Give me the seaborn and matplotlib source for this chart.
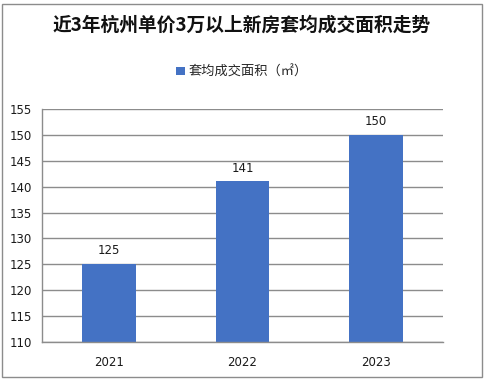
import matplotlib
matplotlib.use("Agg")
import matplotlib.pyplot as plt
import seaborn as sns
import pandas as pd
from matplotlib.patches import Rectangle

# 数据
years = ["2021", "2022", "2023"]
areas = [125, 141, 150]
series_name = "套均成交面积（㎡）"
title = "近3年杭州单价3万以上新房套均成交面积走势"
y_ticks = [110, 115, 120, 125, 130, 135, 140, 145, 150, 155]

sns.set_style("white")
plt.rcParams['font.family'] = ['Noto Sans CJK SC', 'DejaVu Sans']

df = pd.DataFrame({"年份": years, "面积": areas})

fig = plt.figure(figsize=(4.84, 3.8), dpi=100)
ax = fig.add_axes([42 / 484, 1 - 342 / 380, (443 - 42) / 484, (342 - 109) / 380])

# 网格线在柱子下面
ax.set_axisbelow(True)
for t in y_ticks:
    ax.axhline(t, color="#8c8c8c", lw=1.0, zorder=0)

sns.barplot(data=df, x="年份", y="面积", order=years, color="#4472C4",
            width=0.4, saturation=1, label=series_name, ax=ax, zorder=2,
            linewidth=0, edgecolor="none")

ax.set_ylim(110, 155)
ax.set_xlim(-0.5, 2.5)
ax.set_yticks(y_ticks)
ax.set_xlabel("")
ax.set_ylabel("")

# 分类边界刻度
ax.set_xticks([-0.5, 0.5, 1.5, 2.5], minor=True)
ax.tick_params(axis="x", which="major", length=0, pad=10, labelsize=8.5, labelcolor="#1a1a1a")
ax.tick_params(axis="x", which="minor", length=5, width=1, color="#8c8c8c", direction="out")
ax.tick_params(axis="y", which="major", length=5, width=1, color="#8c8c8c", direction="out",
               labelsize=8.5, labelcolor="#1a1a1a", pad=2)
for lab in ax.get_xticklabels() + ax.get_yticklabels():
    lab.set_fontfamily(['DejaVu Sans'])

for side in ["top", "right"]:
    ax.spines[side].set_visible(False)
for side in ["left", "bottom"]:
    ax.spines[side].set_color("#8c8c8c")
    ax.spines[side].set_linewidth(1.0)

ax.bar_label(ax.containers[0], padding=5, fontsize=8.5, color="#1a1a1a", family=['DejaVu Sans'])

# 图例
ax.legend(loc="center", bbox_to_anchor=(0.5, 1 - 72 / 380), bbox_transform=fig.transFigure,
          frameon=False, fontsize=9.5, handlelength=0.65, handleheight=0.65, handletextpad=0.3)

fig.text(0.5, 1 - 25 / 380, title, ha="center", va="center", fontsize=13.5,
         fontweight="bold", color="#111111")

# 图表外框
fig.patches.append(Rectangle((2 / 484, 3 / 380), 480 / 484, 373 / 380, transform=fig.transFigure,
                             fill=False, edgecolor="#8c8c8c", lw=1.0))

fig.savefig("out.png", dpi=100)
